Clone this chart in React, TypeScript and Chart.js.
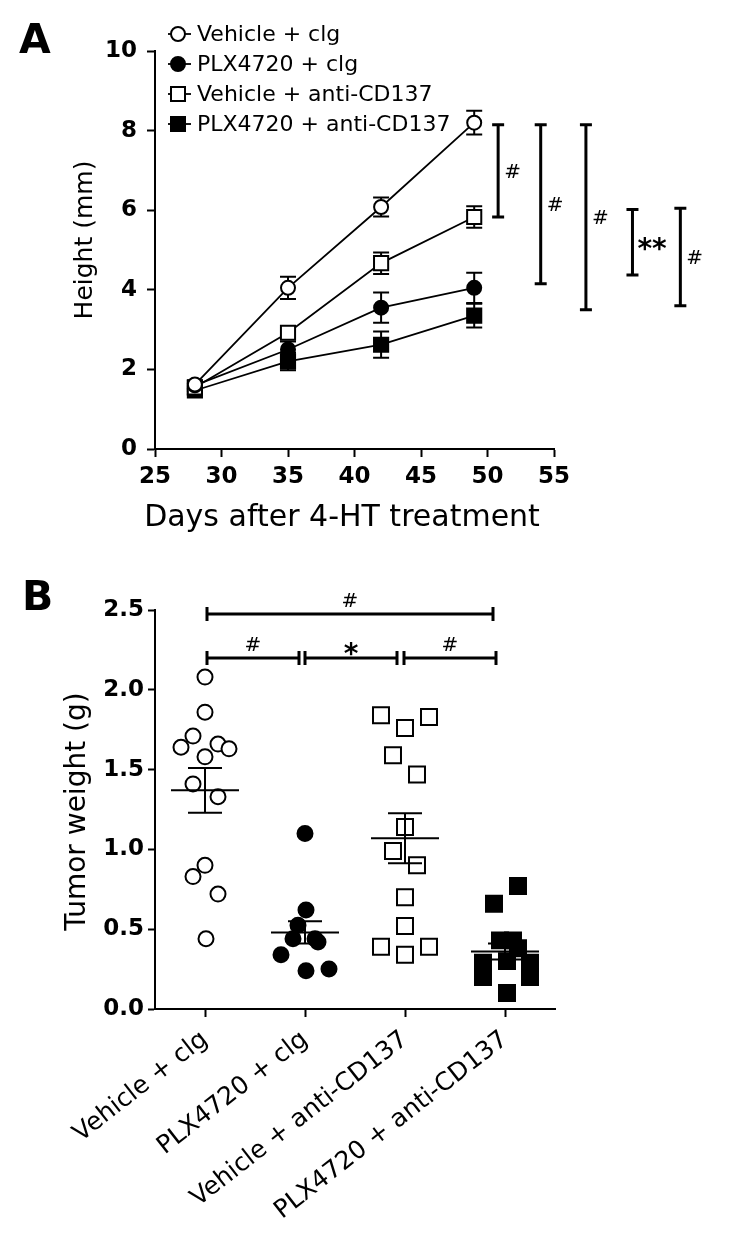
import React, { useEffect, useRef } from 'react';
import { Chart, registerables } from 'chart.js';

Chart.register(...registerables);

const FONT = "'DejaVu Sans', sans-serif";

// ---------- Panel A data ----------
const days = [28, 35, 42, 49];
const seriesLabels = ['Vehicle + clg', 'PLX4720 + clg', 'Vehicle + anti-CD137', 'PLX4720 + anti-CD137'];
const vehClgMean = [1.62, 4.05, 6.08, 8.2];
const vehClgSem = [0.1, 0.28, 0.24, 0.3];
const plxClgMean = [1.6, 2.5, 3.55, 4.05];
const plxClgSem = [0.1, 0.2, 0.38, 0.38];
const vehCdMean = [1.55, 2.92, 4.67, 5.83];
const vehCdSem = [0.1, 0.15, 0.27, 0.27];
const plxCdMean = [1.47, 2.2, 2.62, 3.35];
const plxCdSem = [0.1, 0.22, 0.33, 0.3];
const xTicksA = [25, 30, 35, 40, 45, 50, 55];
const yTicksA = [0, 2, 4, 6, 8, 10];
const titleAx = 'Days after 4-HT treatment';
const titleAy = 'Height (mm)';

// significance bars, panel A (x in days, y in mm)
const sigAx = [50.8, 54.0, 57.4, 60.9, 64.5];
const sigAtop = [8.15, 8.15, 8.15, 6.02, 6.05];
const sigAbottom = [5.83, 4.15, 3.5, 4.37, 3.6];
const sigAlabel = ['#', '#', '#', '**', '#'];

// ---------- Panel B data ----------
const groupLabels = ['Vehicle + clg', 'PLX4720 + clg', 'Vehicle + anti-CD137', 'PLX4720 + anti-CD137'];
const g1Vals = [2.08, 1.86, 1.71, 1.64, 1.66, 1.63, 1.58, 1.41, 1.33, 0.9, 0.83, 0.72, 0.44];
const g1Jit = [0, 0, -0.12, -0.24, 0.13, 0.24, 0, -0.12, 0.13, 0, -0.12, 0.13, 0.01];
const g2Vals = [1.1, 0.62, 0.525, 0.44, 0.44, 0.42, 0.34, 0.24, 0.25];
const g2Jit = [0, 0.01, -0.07, -0.12, 0.1, 0.13, -0.24, 0.01, 0.24];
const g3Vals = [1.84, 1.76, 1.83, 1.59, 1.47, 1.14, 0.99, 0.9, 0.7, 0.52, 0.39, 0.34, 0.39];
const g3Jit = [-0.24, 0, 0.24, -0.12, 0.12, 0, -0.12, 0.12, 0, 0, -0.24, 0, 0.24];
const g4Vals = [0.77, 0.66, 0.43, 0.43, 0.38, 0.3, 0.29, 0.2, 0.29, 0.2, 0.1];
const g4Jit = [0.13, -0.11, -0.05, 0.08, 0.13, 0.02, -0.22, -0.22, 0.25, 0.25, 0.02];
const groupMeans = [1.37, 0.48, 1.07, 0.36];
const groupSems = [0.14, 0.07, 0.157, 0.05];
const yTicksB = [0, 0.5, 1, 1.5, 2, 2.5];
const titleBy = 'Tumor weight (g)';

// brackets, panel B (x in group index units, y in g)
const brB_x1 = [0.02, 0.02, 1.0, 1.99];
const brB_x2 = [2.88, 0.94, 1.92, 2.91];
const brB_y = [2.475, 2.2, 2.2, 2.2];
const brB_label = ['#', '#', '*', '#'];

const seriesMeansA = [vehClgMean, plxClgMean, vehCdMean, plxCdMean];
const seriesSemsA = [vehClgSem, plxClgSem, vehCdSem, plxCdSem];
const markerShape = ['circle', 'circle', 'rect', 'rect'];
const markerFilled = [false, true, false, true];

function drawMarker(ctx: CanvasRenderingContext2D, shape: string, filled: boolean, x: number, y: number, size: number) {
  ctx.save();
  ctx.lineWidth = 2;
  ctx.strokeStyle = '#000';
  ctx.fillStyle = filled ? '#000' : '#fff';
  ctx.beginPath();
  if (shape === 'circle') {
    ctx.arc(x, y, size / 2 - 1, 0, Math.PI * 2);
  } else {
    ctx.rect(x - size / 2 + 1, y - size / 2 + 1, size - 2, size - 2);
  }
  ctx.fill();
  ctx.stroke();
  ctx.restore();
}

const axisCommon = (size: number, weight: string) => ({
  font: { family: FONT, size, weight },
  color: '#000',
});

const panelAPlugin = {
  id: 'panelA',
  beforeDatasetsDraw(chart: any) {
    const { ctx, scales } = chart;
    const x = scales.x;
    const y = scales.y;
    ctx.save();
    ctx.strokeStyle = '#000';
    ctx.lineWidth = 2;
    seriesMeansA.forEach((means, si) => {
      const sems = seriesSemsA[si];
      days.forEach((d, i) => {
        const px = x.getPixelForValue(d);
        const top = y.getPixelForValue(means[i] + sems[i]);
        const bot = y.getPixelForValue(means[i] - sems[i]);
        ctx.beginPath();
        ctx.moveTo(px, top);
        ctx.lineTo(px, bot);
        ctx.moveTo(px - 8, top);
        ctx.lineTo(px + 8, top);
        ctx.moveTo(px - 8, bot);
        ctx.lineTo(px + 8, bot);
        ctx.stroke();
      });
    });
    ctx.restore();
  },
  afterDraw(chart: any) {
    const { ctx, scales, chartArea } = chart;
    const x = scales.x;
    const y = scales.y;
    ctx.save();
    // panel letter
    ctx.fillStyle = '#000';
    ctx.font = `bold 41px ${FONT}`;
    ctx.textAlign = 'left';
    ctx.textBaseline = 'alphabetic';
    ctx.fillText('A', 11, 45);
    // legend
    const rowsY = [26, 56, 86, 116];
    seriesLabels.forEach((lab, i) => {
      const my = rowsY[i];
      ctx.strokeStyle = '#000';
      ctx.lineWidth = 1.8;
      ctx.beginPath();
      ctx.moveTo(160, my);
      ctx.lineTo(183, my);
      ctx.stroke();
      drawMarker(ctx, markerShape[i], markerFilled[i], 170, my, 16);
      ctx.fillStyle = '#000';
      ctx.font = `22px ${FONT}`;
      ctx.textAlign = 'left';
      ctx.textBaseline = 'middle';
      ctx.fillText(lab, 189, my + 1);
    });
    // axis titles
    ctx.font = `30px ${FONT}`;
    ctx.textAlign = 'center';
    ctx.textBaseline = 'middle';
    ctx.fillText(titleAx, 334, 510);
    ctx.save();
    ctx.translate(77, (chartArea.top + chartArea.bottom) / 2 - 10);
    ctx.rotate(-Math.PI / 2);
    ctx.font = `25px ${FONT}`;
    ctx.fillText(titleAy, 0, 0);
    ctx.restore();
    // significance bars
    ctx.strokeStyle = '#000';
    ctx.lineWidth = 3;
    sigAx.forEach((sx, i) => {
      const px = x.getPixelForValue(sx);
      const t = y.getPixelForValue(sigAtop[i]);
      const b = y.getPixelForValue(sigAbottom[i]);
      ctx.beginPath();
      ctx.moveTo(px, t);
      ctx.lineTo(px, b);
      ctx.moveTo(px - 6, t);
      ctx.lineTo(px + 6, t);
      ctx.moveTo(px - 6, b);
      ctx.lineTo(px + 6, b);
      ctx.stroke();
      const mid = (t + b) / 2;
      ctx.textAlign = 'left';
      ctx.textBaseline = 'alphabetic';
      if (sigAlabel[i] === '#') {
        ctx.font = `20px ${FONT}`;
        ctx.fillText('#', px + 6, mid + 7);
      } else {
        ctx.font = `bold 28px ${FONT}`;
        ctx.fillText(sigAlabel[i], px + 5, mid + 16);
      }
    });
    ctx.restore();
  },
};

const panelBPlugin = {
  id: 'panelB',
  afterDatasetsDraw(chart: any) {
    const { ctx, scales } = chart;
    const x = scales.x;
    const y = scales.y;
    ctx.save();
    ctx.strokeStyle = '#000';
    ctx.lineWidth = 2;
    groupMeans.forEach((m, i) => {
      const xc = x.getPixelForValue(i);
      const hw = x.getPixelForValue(i + 0.34) - xc;
      const cw = x.getPixelForValue(i + 0.17) - xc;
      const ym = y.getPixelForValue(m);
      const yt = y.getPixelForValue(m + groupSems[i]);
      const yb = y.getPixelForValue(m - groupSems[i]);
      ctx.beginPath();
      ctx.moveTo(xc - hw, ym);
      ctx.lineTo(xc + hw, ym);
      ctx.moveTo(xc, yt);
      ctx.lineTo(xc, yb);
      ctx.moveTo(xc - cw, yt);
      ctx.lineTo(xc + cw, yt);
      ctx.moveTo(xc - cw, yb);
      ctx.lineTo(xc + cw, yb);
      ctx.stroke();
    });
    ctx.restore();
  },
  afterDraw(chart: any) {
    const { ctx, scales, chartArea } = chart;
    const x = scales.x;
    const y = scales.y;
    ctx.save();
    ctx.fillStyle = '#000';
    ctx.font = `bold 41px ${FONT}`;
    ctx.textAlign = 'left';
    ctx.textBaseline = 'alphabetic';
    ctx.fillText('B', 14, 62);
    // y title
    ctx.save();
    ctx.translate(70, (chartArea.top + chartArea.bottom) / 2 + 2);
    ctx.rotate(-Math.PI / 2);
    ctx.font = `28px ${FONT}`;
    ctx.textAlign = 'center';
    ctx.textBaseline = 'middle';
    ctx.fillText(titleBy, 0, 0);
    ctx.restore();
    // brackets
    ctx.strokeStyle = '#000';
    ctx.lineWidth = 3;
    brB_y.forEach((by, i) => {
      const x1 = x.getPixelForValue(brB_x1[i]);
      const x2 = x.getPixelForValue(brB_x2[i]);
      const py = y.getPixelForValue(by);
      ctx.beginPath();
      ctx.moveTo(x1, py);
      ctx.lineTo(x2, py);
      ctx.moveTo(x1, py - 7);
      ctx.lineTo(x1, py + 7);
      ctx.moveTo(x2, py - 7);
      ctx.lineTo(x2, py + 7);
      ctx.stroke();
      const xm = (x1 + x2) / 2;
      ctx.textAlign = 'center';
      ctx.textBaseline = 'alphabetic';
      if (brB_label[i] === '#') {
        ctx.font = `20px ${FONT}`;
        ctx.fillText('#', xm, py - 7);
      } else {
        ctx.font = `bold 28px ${FONT}`;
        ctx.fillText(brB_label[i], xm, py + 5);
      }
    });
    ctx.restore();
  },
};

function PanelA() {
  const ref = useRef<HTMLCanvasElement>(null);
  useEffect(() => {
    if (!ref.current) return;
    const datasets = seriesLabels.map((lab, si) => ({
      label: lab,
      data: days.map((d, i) => ({ x: d, y: seriesMeansA[si][i] })),
      borderColor: '#000',
      borderWidth: 1.8,
      pointStyle: markerShape[si],
      pointRadius: markerShape[si] === 'circle' ? 7 : 10,
      pointBorderWidth: 2,
      pointBorderColor: '#000',
      pointBackgroundColor: markerFilled[si] ? '#000' : '#fff',
      fill: false,
      tension: 0,
      clip: false as any,
    }));
    const chart = new Chart(ref.current, {
      type: 'line',
      data: { datasets },
      plugins: [panelAPlugin],
      options: {
        responsive: false,
        animation: false,
        devicePixelRatio: 1,
        layout: { padding: { left: 0, right: 177, top: 43, bottom: 0 } },
        plugins: { legend: { display: false }, tooltip: { enabled: false } },
        scales: {
          x: {
            type: 'linear',
            min: 25,
            max: 55,
            afterBuildTicks: (s: any) => {
              s.ticks = xTicksA.map((v) => ({ value: v }));
            },
            afterFit: (s: any) => {
              s.height = 99;
            },
            ticks: { ...axisCommon(23, 'bold'), padding: 6, autoSkip: false, maxRotation: 0 },
            grid: { drawOnChartArea: false, tickLength: 8, tickWidth: 2, tickColor: '#000' },
            border: { color: '#000', width: 2 },
          },
          y: {
            type: 'linear',
            min: 0,
            max: 10,
            afterBuildTicks: (s: any) => {
              s.ticks = yTicksA.map((v) => ({ value: v }));
            },
            afterFit: (s: any) => {
              s.width = 147;
            },
            ticks: { ...axisCommon(23, 'bold'), padding: 10 },
            grid: { drawOnChartArea: false, tickLength: 8, tickWidth: 2, tickColor: '#000' },
            border: { color: '#000', width: 2 },
          },
        },
      } as any,
    });
    return () => chart.destroy();
  }, []);
  return <canvas ref={ref} width={723} height={540} style={{ display: 'block' }} />;
}

function PanelB() {
  const ref = useRef<HTMLCanvasElement>(null);
  useEffect(() => {
    if (!ref.current) return;
    const groups = [
      [g1Vals, g1Jit],
      [g2Vals, g2Jit],
      [g3Vals, g3Jit],
      [g4Vals, g4Jit],
    ];
    const datasets = groups.map(([vals, jit], gi) => ({
      label: groupLabels[gi],
      data: vals.map((v, i) => ({ x: gi + jit[i], y: v })),
      pointStyle: markerShape[gi],
      pointRadius: markerShape[gi] === 'circle' ? 7.5 : 11.3,
      pointBorderWidth: 2,
      pointBorderColor: '#000',
      pointBackgroundColor: markerFilled[gi] ? '#000' : '#fff',
      clip: false as any,
    }));
    const chart = new Chart(ref.current, {
      type: 'scatter',
      data: { datasets },
      plugins: [panelBPlugin],
      options: {
        responsive: false,
        animation: false,
        devicePixelRatio: 1,
        layout: { padding: { left: 0, right: 176, top: 62, bottom: 0 } },
        plugins: { legend: { display: false }, tooltip: { enabled: false } },
        scales: {
          x: {
            type: 'linear',
            min: -0.5,
            max: 3.5,
            afterBuildTicks: (s: any) => {
              s.ticks = groupLabels.map((_, i) => ({ value: i }));
            },
            afterFit: (s: any) => {
              s.height = 227;
            },
            ticks: {
              ...axisCommon(25, 'normal'),
              padding: 8,
              autoSkip: false,
              minRotation: 38,
              maxRotation: 38,
              callback: (v: any) => groupLabels[Math.round(v)] ?? '',
            },
            grid: { drawOnChartArea: false, tickLength: 8, tickWidth: 2, tickColor: '#000' },
            border: { color: '#000', width: 2 },
          },
          y: {
            type: 'linear',
            min: 0,
            max: 2.5,
            afterBuildTicks: (s: any) => {
              s.ticks = yTicksB.map((v) => ({ value: v }));
            },
            afterFit: (s: any) => {
              s.width = 147;
            },
            ticks: { ...axisCommon(23, 'bold'), padding: 4, callback: (v: any) => Number(v).toFixed(1) },
            grid: { drawOnChartArea: false, tickLength: 7, tickWidth: 2, tickColor: '#000' },
            border: { color: '#000', width: 2 },
          },
        },
      } as any,
    });
    return () => chart.destroy();
  }, []);
  return <canvas ref={ref} width={723} height={688} style={{ display: 'block' }} />;
}

export default function App() {
  return (
    <div>
      <PanelA />
      <PanelB />
    </div>
  );
}
